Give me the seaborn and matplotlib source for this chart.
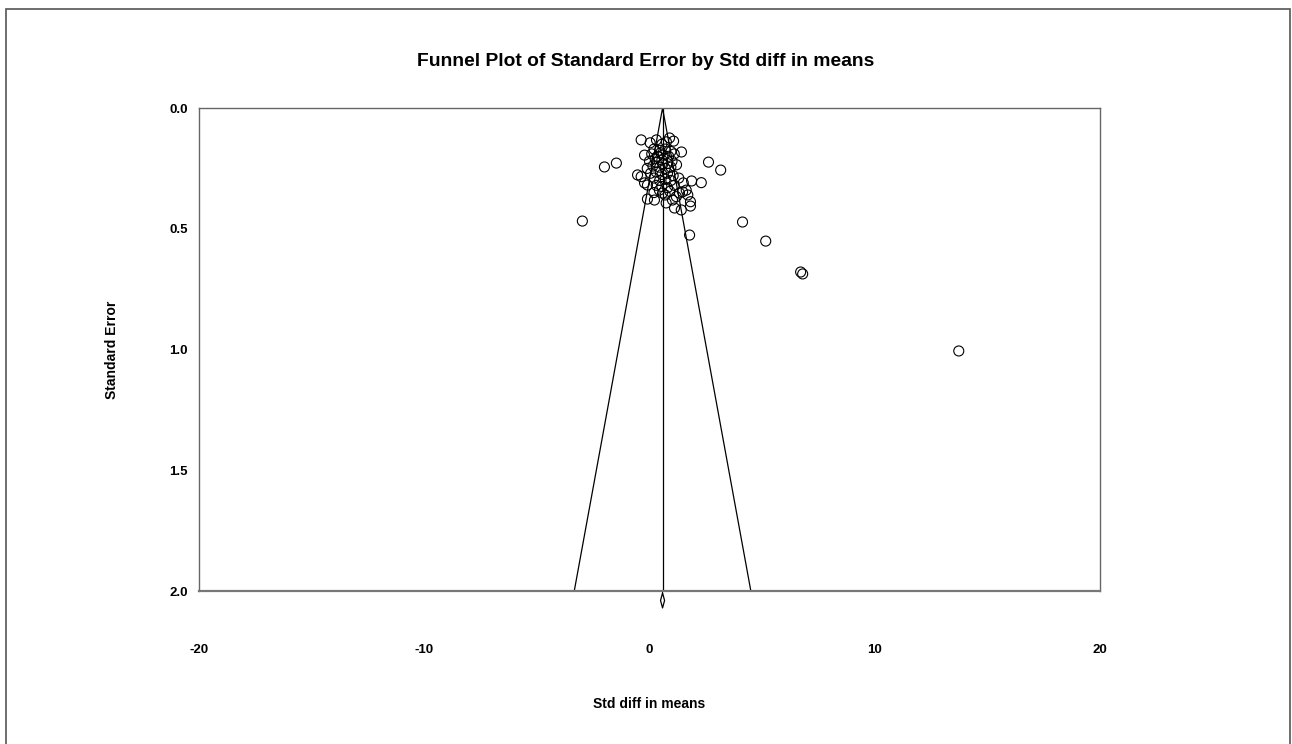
import matplotlib
matplotlib.use("Agg")
import matplotlib.pyplot as plt
import matplotlib.patches as mpatches
import numpy as np
import pandas as pd
import seaborn as sns

# ---- data ----
std_diff = [
    -0.37, 0.03, 0.31, 0.89, 1.07, 0.75, 0.55,
    0.20, 0.45, 0.70, 0.95, 1.42, -0.22, 0.10, 0.35, 0.60, 0.85, 1.10, 0.50, 0.25,
    0.00, 0.30, 0.55, 0.80, 1.00, 1.20, 0.15, 0.45, 0.70, 0.95, -0.10, 0.60,
    -0.53, -0.37, 0.05, 0.30, 0.55, 0.80, 1.05, 1.30, 0.20, 0.45, 0.70, 0.95, 1.50, -0.22, -0.09,
    0.30, 0.55, 0.80, 1.10, 1.33, 1.47, 1.63, 0.44, 0.58, 1.87, 2.30, 1.19, 1.02, 0.20, 0.70, 0.90, 1.70,
    -0.09, 0.22, 0.74, 1.11, 1.41, 1.82, 1.82,
    -2.98, -2.00, -1.47, 2.62, 3.16, 4.13, 5.16, 6.71, 6.80, 13.73, 1.78,
]
std_error = [
    0.132, 0.144, 0.132, 0.124, 0.137, 0.140, 0.150,
    0.170, 0.175, 0.170, 0.180, 0.182, 0.195, 0.190, 0.200, 0.195, 0.200, 0.190, 0.185, 0.210,
    0.220, 0.225, 0.215, 0.230, 0.220, 0.235, 0.240, 0.245, 0.250, 0.245, 0.250, 0.230,
    0.277, 0.284, 0.270, 0.265, 0.275, 0.270, 0.280, 0.290, 0.290, 0.300, 0.295, 0.300, 0.310, 0.310, 0.319,
    0.320, 0.325, 0.330, 0.320, 0.352, 0.347, 0.340, 0.340, 0.352, 0.302, 0.309, 0.367, 0.381, 0.350, 0.360, 0.345, 0.360,
    0.377, 0.381, 0.393, 0.414, 0.422, 0.406, 0.388,
    0.468, 0.244, 0.228, 0.224, 0.257, 0.472, 0.551, 0.679, 0.687, 1.006, 0.526,
]
summary_mean = [0.58]
summary_ci = [0.49, 0.67]
x_ticks = [-20, -10, 0, 10, 20]
y_ticks = [0.0, 0.5, 1.0, 1.5, 2.0]

df = pd.DataFrame({"Std diff in means": std_diff, "Standard Error": std_error})

sns.set_style("white")
plt.rcParams["font.family"] = ["Liberation Sans", "DejaVu Sans"]
plt.rcParams["text.color"] = "black"
plt.rcParams["axes.labelcolor"] = "black"
plt.rcParams["xtick.labelcolor"] = "black"
plt.rcParams["ytick.labelcolor"] = "black"

fig = plt.figure(figsize=(12.92, 7.44), dpi=100)
ax = fig.add_axes([0.154, 0.2056, 0.6974, 0.6492])

# funnel
m = summary_mean[0]
se_max = y_ticks[-1]
ax.plot([m - 1.96 * se_max, m, m + 1.96 * se_max], [se_max, 0, se_max],
        color="black", lw=0.9, zorder=2)
ax.plot([m, m], [0, se_max], color="black", lw=0.9, zorder=2)

sns.scatterplot(data=df, x="Std diff in means", y="Standard Error", ax=ax,
                marker="o", s=52, facecolor="none", edgecolor="black",
                linewidth=0.8, zorder=3)
for c in ax.collections:
    c.set_facecolor("none")
    c.set_edgecolor("black")

ax.set_xlim(x_ticks[0], x_ticks[-1])
ax.set_ylim(se_max, 0)

# summary diamond below the axis
lo, hi = summary_ci
dy_top, dy_mid, dy_bot = 2.008, 2.039, 2.070
ax.plot([m, hi, m, lo, m], [dy_top, dy_mid, dy_bot, dy_mid, dy_top],
        color="black", lw=0.9, clip_on=False, zorder=4)

ax.set_xticks(x_ticks)
ax.set_xticklabels([f"{v}" for v in x_ticks])
ax.set_yticks(y_ticks)
ax.set_yticklabels([f"{v:.1f}" for v in y_ticks])
ax.tick_params(axis="x", direction="in", length=4, width=0.8, color="#555555",
               pad=38, labelsize=9.5, labelcolor="black")
ax.tick_params(axis="y", length=0, pad=8, labelsize=9.5, labelcolor="black")
for lab in ax.get_xticklabels() + ax.get_yticklabels():
    lab.set_fontweight("bold")

for sp in ax.spines.values():
    sp.set_color("#666666")
    sp.set_linewidth(1.0)
ax.spines["bottom"].set_linewidth(1.6)
ax.spines["bottom"].set_color("#777777")

ax.set_xlabel("Std diff in means", fontsize=10, fontweight="bold", labelpad=30,
              color="black")
ax.set_ylabel("Standard Error", fontsize=10, fontweight="bold", labelpad=36,
              color="black")
fig.text(0.5, 0.918, "Funnel Plot of Standard Error by Std diff in means",
         ha="center", va="center", fontsize=13.9, fontweight="bold",
         color="black")

# outer frame
fig.patches.append(mpatches.Rectangle((0.0046, -0.01), 0.9939, 0.9979,
                                      transform=fig.transFigure, fill=False,
                                      edgecolor="#555555", lw=1.2))

fig.savefig("out.png", dpi=100)
